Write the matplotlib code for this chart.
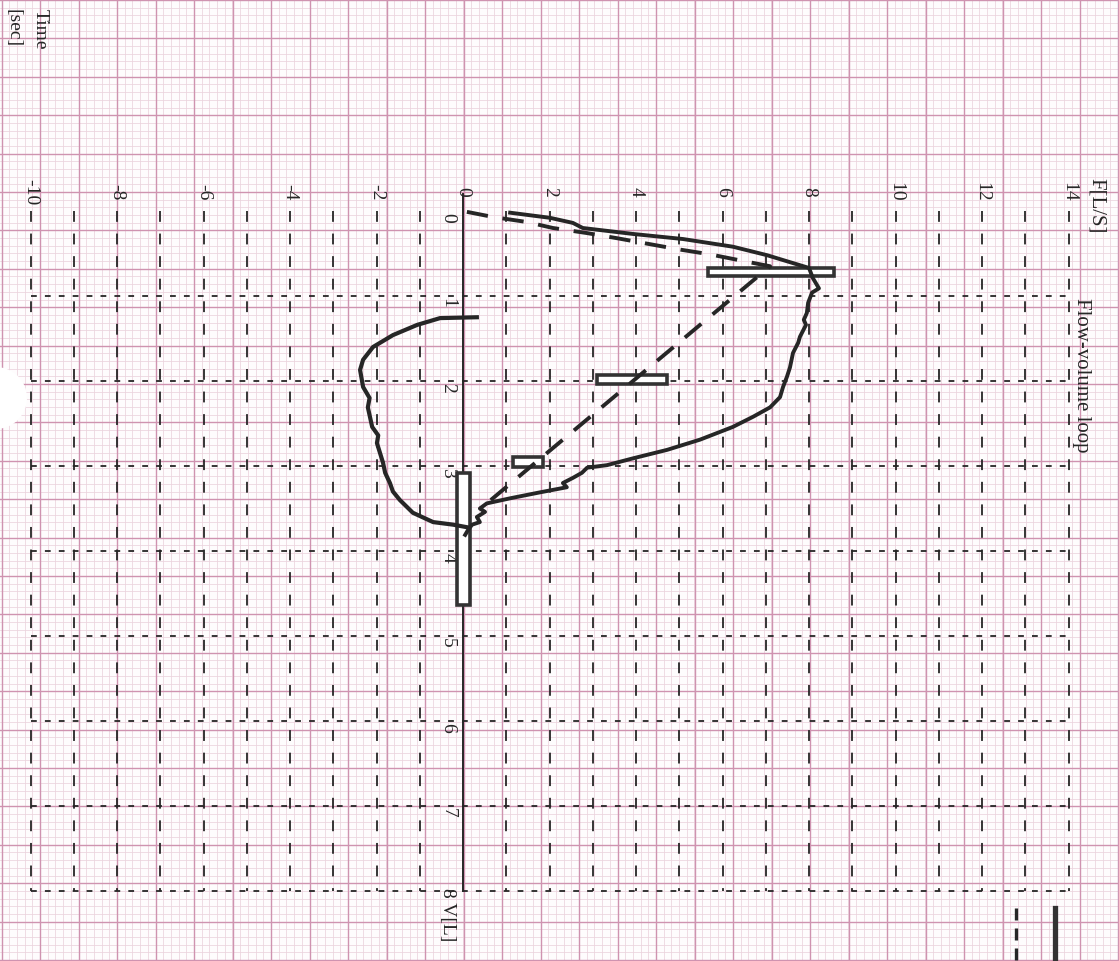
import numpy as np
import matplotlib
matplotlib.use("Agg")
import matplotlib.pyplot as plt
from matplotlib.patches import Rectangle, Circle

# flow [L/s] / volume [L]
exp_flow = [1.09, 2.01, 2.54, 2.77, 3.93, 5.09, 6.24, 7.03, 8.0,
            8.09, 8.23, 8.07, 7.98, 7.95, 7.88, 7.93, 7.79, 7.75, 7.63, 7.56, 7.49, 7.40, 7.33, 7.10,
            6.71, 6.24, 5.48, 4.72, 3.93, 3.33, 2.87, 2.75, 2.54, 2.31, 2.40, 1.78, 1.09, 0.55,
            0.39, 0.51, 0.32, 0.39, 0.21, 0.12, 0.05]
exp_vol = [0.02, 0.08, 0.14, 0.20, 0.27, 0.33, 0.42, 0.52, 0.67,
           0.79, 0.91, 0.96, 1.08, 1.20, 1.28, 1.34, 1.48, 1.55, 1.67, 1.84, 1.95, 2.07, 2.19, 2.31,
           2.42, 2.54, 2.69, 2.81, 2.91, 2.99, 3.02, 3.08, 3.14, 3.20, 3.25, 3.31, 3.38, 3.44,
           3.50, 3.54, 3.60, 3.66, 3.69, 3.75, 3.81]

insp_flow = [0.09, -0.23, -0.69, -1.16, -1.46, -1.62, -1.69, -1.80, -1.85, -1.99, -1.96, -2.10,
             -2.20, -2.16, -2.31, -2.38, -2.31, -2.08, -1.62, -1.06, -0.53, 0.32]
insp_vol = [3.72, 3.69, 3.66, 3.55, 3.40, 3.30, 3.20, 3.08, 2.96, 2.73, 2.64, 2.54,
            2.31, 2.20, 2.07, 1.87, 1.75, 1.60, 1.46, 1.34, 1.26, 1.25]

# predicted curve (dashed)
pred_flow = [0.09, 0.69, 1.48, 2.08, 2.87, 3.56, 4.32, 4.97, 5.71, 6.40, 7.10, 0.55]
pred_vol = [0.01, 0.07, 0.13, 0.20, 0.26, 0.32, 0.39, 0.45, 0.51, 0.58, 0.65, 3.44]

# predicted ranges: (flow lo, flow hi, vol lo, vol hi)
range_boxes = [(5.66, 8.58, 0.67, 0.77),
               (3.10, 4.72, 1.93, 2.03),
               (1.16, 1.85, 2.89, 3.01),
               (-0.14, 0.16, 3.08, 4.64)]

flow_ticks = list(range(-10, 15, 2))
vol_ticks = list(range(0, 8))

W, H = 1119, 961
fig = plt.figure(figsize=(W / 100, H / 100), dpi=100)
fig.patch.set_facecolor("#fefcfd")

# paper grid, pixel coords
bg = fig.add_axes([0, 0, 1, 1], zorder=0)
bg.set_xlim(0, W)
bg.set_ylim(H, 0)
bg.axis("off")
for x in np.arange(1.5, W, 38.5 / 5):
    bg.axvline(x, color="#ebd3dd", lw=0.55)
for y in np.arange(0, H, 38.4 / 5):
    bg.axhline(y, color="#ebd3dd", lw=0.55)
for x in np.arange(1.5, W, 38.5):
    bg.axvline(x, color="#cf93b0", lw=1.0)
for y in np.arange(0, H, 38.4):
    bg.axhline(y, color="#cf93b0", lw=1.0)

# chart axes
ax = fig.add_axes([0, 0, 1, 1], zorder=1)
ax.patch.set_alpha(0)
ax.axis("off")
x0, kx = 463, 43.25
y0, ky = 211, 85.0
ax.set_xlim((0 - x0) / kx, (W - x0) / kx)
ax.set_ylim((H - y0) / ky, (0 - y0) / ky)

ink = "#262626"
fnt = "Liberation Serif"

# dashed scale lines
for f in range(-10, 15):
    if f == 0:
        continue
    ax.plot([f, f], [0, 8], color=ink, lw=1.3, ls=(0, (6, 6.5)))
for v in range(1, 9):
    ax.plot([-10, 14], [v, v], color=ink, lw=1.3, ls=(0, (3.2, 4.5)))
ax.plot([0, 0], [-0.2, 8], color=ink, lw=1.4)

# labels
for f in flow_ticks:
    ax.text(f, -0.22, str(f), rotation=-90, ha="center", va="center",
            fontsize=14, family=fnt, color=ink)
for v in vol_ticks:
    ax.text(-0.35, v + 0.08, str(v), rotation=-90, ha="center", va="center",
            fontsize=14, family=fnt, color=ink)
ax.text(-0.35, 7.97, "8 V[L]", rotation=-90, ha="center", va="top",
        fontsize=14, family=fnt, color=ink)
ax.text(14.3, 1.93, "Flow-volume loop", rotation=-90, ha="center", va="center",
        fontsize=15, family=fnt, color=ink)
ax.text(14.65, -0.06, "F[L/S]", rotation=-90, ha="center", va="center",
        fontsize=15, family=fnt, color=ink)
ax.text(-9.78, -2.38, "Time", rotation=-90, ha="center", va="top",
        fontsize=14, family=fnt, color=ink)
ax.text(-10.4, -2.38, "[sec]", rotation=-90, ha="center", va="top",
        fontsize=14, family=fnt, color=ink)

# predicted range boxes
for lo, hi, vlo, vhi in range_boxes:
    ax.add_patch(Rectangle((lo, vlo), hi - lo, vhi - vlo, facecolor="white",
                           edgecolor="#333333", lw=2.6, zorder=3))

# predicted curve
ax.plot(pred_flow, pred_vol, color=ink, lw=2.8, ls=(0, (5.5, 3.8)), zorder=4)

# measured loop
ax.plot(exp_flow, exp_vol, color=ink, lw=2.8, zorder=5, solid_joinstyle="round")
ax.plot(insp_flow, insp_vol, color=ink, lw=3.0, zorder=5, solid_joinstyle="round")

# legend keys + punch hole, pixel coords on top
top = fig.add_axes([0, 0, 1, 1], zorder=2)
top.patch.set_alpha(0)
top.set_xlim(0, W)
top.set_ylim(H, 0)
top.axis("off")
top.plot([1016, 1016], [908, H], color=ink, lw=2.4, ls=(0, (3.6, 2.4)))
top.plot([1055, 1055], [908, H], color="#333333", lw=3.8)
top.add_patch(Circle((-4, 398), 31, facecolor="white", edgecolor="none"))

fig.savefig("out.png", dpi=100, facecolor=fig.get_facecolor())
